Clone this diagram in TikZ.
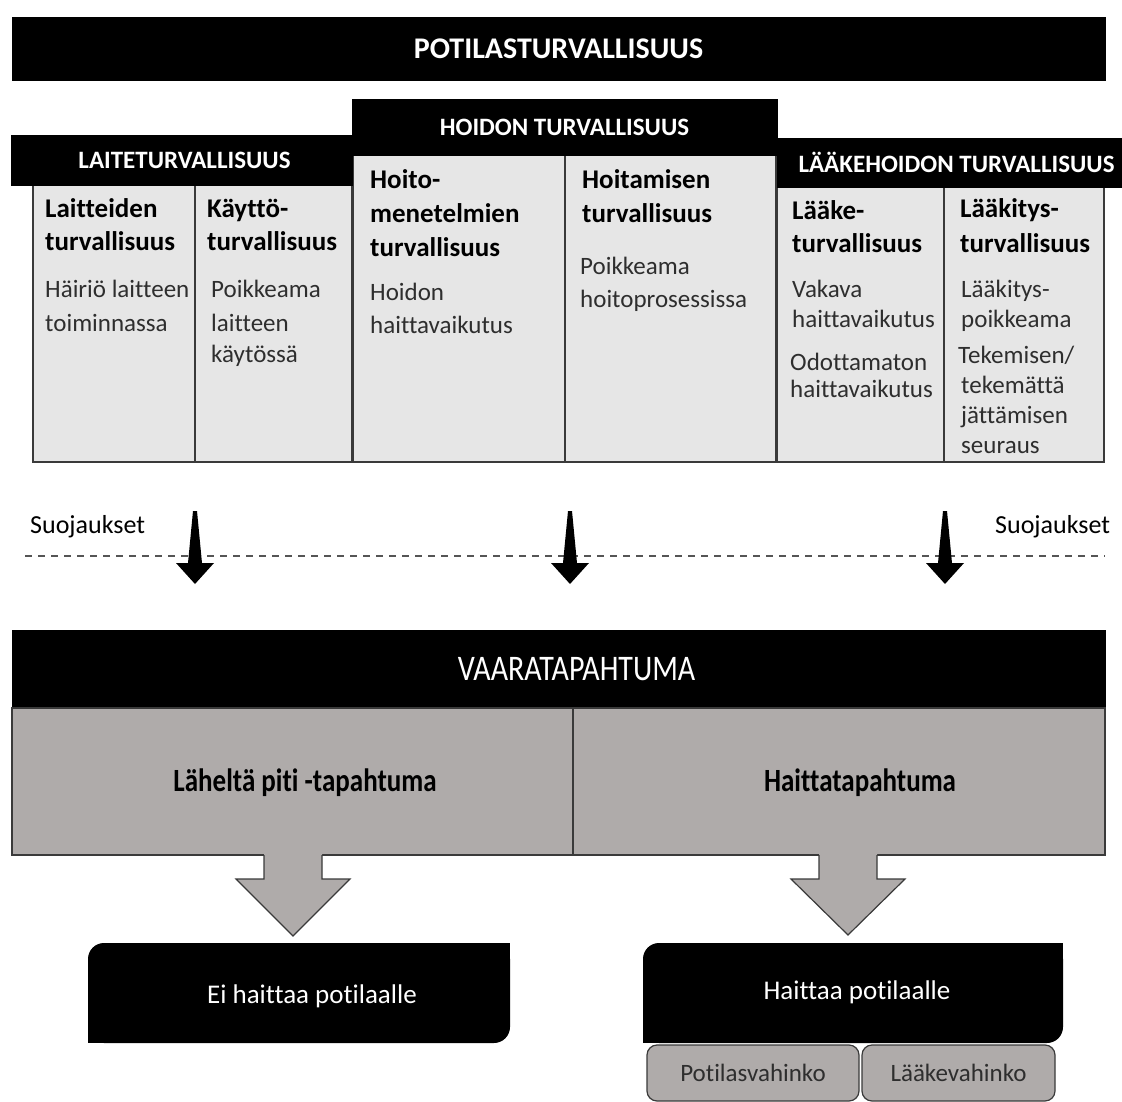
\documentclass[tikz,border=0pt]{standalone}
\usepackage{fontspec}
\setmainfont{Carlito}[Ligatures=NoCommon]
\usepackage{graphicx}
\definecolor{colfill}{HTML}{E6E6E6}
\definecolor{colline}{HTML}{3A3A3A}
\definecolor{bodytext}{HTML}{2E2E2E}
\definecolor{lowgray}{HTML}{AFABAA}
\definecolor{dashgray}{HTML}{555555}
\begin{document}
\begin{tikzpicture}[x=1pt,y=-1pt,
  box/.style={anchor=north west,inner sep=0pt,outer sep=0pt},
  blackbar/.style={box,fill=black,draw=black},
  colbox/.style={box,fill=colfill,draw=colline,line width=1.5pt},
  lowbox/.style={box,fill=lowgray,draw=colline,line width=1.2pt},
  hdr/.style={text=white,font=\bfseries\fontsize{25}{30}\selectfont,inner sep=0pt},
  ttl/.style={anchor=base west,inner sep=0pt,text=black,font=\bfseries\fontsize{27}{31}\selectfont},
  bdy/.style={anchor=base west,inner sep=0pt,text=bodytext,font=\fontsize{25}{31}\selectfont},
  thinarrow/.style={fill=black},
  bigarrow/.style={fill=lowgray},
  bigarrowline/.style={draw=colline,line width=1.2pt,line join=miter}
]
\useasboundingbox (0,0) rectangle (1122,1102);

% top bar
\node[blackbar,minimum width=1093pt,minimum height=63pt] (top) at (12,17) {};
\node[hdr,font=\bfseries\fontsize{30}{34}\selectfont] (toptxt) at (top.center) {POTILASTURVALLISUUS};

% columns
\node[colbox,minimum width=162pt,minimum height=277pt] (c1) at (33,185) {};
\node[colbox,minimum width=157pt,minimum height=277pt] (c2) at (195,185) {};
\node[colbox,minimum width=212pt,minimum height=307pt] (c3) at (353,155) {};
\node[colbox,minimum width=211pt,minimum height=307pt] (c4) at (565,155) {};
\node[colbox,minimum width=167pt,minimum height=275pt] (c5) at (777,187) {};
\node[colbox,minimum width=160pt,minimum height=275pt] (c6) at (944,187) {};

% group headers
\node[blackbar,minimum width=341pt,minimum height=50pt] (laite) at (11,135) {};
\node[hdr] (laitetxt) at ([xshift=3pt]laite.center) {LAITETURVALLISUUS};
\node[blackbar,minimum width=425pt,minimum height=56pt] (hoidon) at (352,99) {};
\node[hdr] (hoidontxt) at (hoidon.center) {HOIDON TURVALLISUUS};
\node[blackbar,minimum width=345pt,minimum height=49pt] (laake) at (777,138) {};
\node[hdr] (laaketxt) at ([xshift=7pt]laake.center) {LÄÄKEHOIDON TURVALLISUUS};

% column 1
\node[ttl] (c1a) at (45,218) {Laitteiden};
\node[ttl] (c1b) at (45,251) {turvallisuus};
\node[bdy] (c1c) at (45,298) {Häiriö laitteen};
\node[bdy] (c1d) at (45,331) {toiminnassa};
% column 2
\node[ttl] (c2a) at (207,218) {Käyttö-};
\node[ttl] (c2b) at (207,251) {turvallisuus};
\node[bdy] (c2c) at (211,298) {Poikkeama};
\node[bdy] (c2d) at (211,331) {laitteen};
\node[bdy] (c2e) at (211,362) {käytössä};
% column 3
\node[ttl] (c3a) at (370,189) {Hoito-};
\node[ttl] (c3b) at (370,223) {menetelmien};
\node[ttl] (c3c) at (370,256) {turvallisuus};
\node[bdy] (c3d) at (370,300) {Hoidon};
\node[bdy] (c3e) at (370,333) {haittavaikutus};
% column 4
\node[ttl] (c4a) at (582,189) {Hoitamisen};
\node[ttl] (c4b) at (582,223) {turvallisuus};
\node[bdy] (c4c) at (580,275) {Poikkeama};
\node[bdy] (c4d) at (580,307) {hoitoprosessissa};
% column 5
\node[ttl] (c5a) at (792,220) {Lääke-};
\node[ttl] (c5b) at (792,252) {turvallisuus};
\node[bdy] (c5c) at (792,297) {Vakava};
\node[bdy] (c5d) at (792,327) {haittavaikutus};
\node[bdy] (c5e) at (790,370) {Odottamaton};
\node[bdy] (c5f) at (790,397) {haittavaikutus};
% column 6
\node[ttl] (c6a) at (960,218) {Lääkitys-};
\node[ttl] (c6b) at (960,252) {turvallisuus};
\node[bdy] (c6c) at (961,297) {Lääkitys-};
\node[bdy] (c6d) at (961,327) {poikkeama};
\node[bdy] (c6e) at (958,363) {Tekemisen/};
\node[bdy] (c6f) at (961,393) {tekemättä};
\node[bdy] (c6g) at (961,423) {jättämisen};
\node[bdy] (c6h) at (961,453) {seuraus};

% defences
\node[bdy,text=black,font=\fontsize{26}{30}\selectfont] (suoL) at (30,533) {Suojaukset};
\node[bdy,text=black,font=\fontsize{26}{30}\selectfont] (suoR) at (995,533) {Suojaukset};
\coordinate (dL) at (25,556);
\coordinate (dR) at (1105,556);
\draw[dashgray,line width=1.5pt,dash pattern=on 7pt off 6pt] (dL) -- (dR);

% thin arrows
\foreach \ax/\nm in {195/aL,570/aM,945/aR}{
  \fill[thinarrow] (\ax-2,511) -- (\ax+2,511) -- (\ax+7,563) -- (\ax+19,563) -- (\ax,584) -- (\ax-19,563) -- (\ax-7,563) -- cycle;
}

% hazard event
\node[blackbar,minimum width=1093pt,minimum height=78pt] (vaara) at (12,630) {};
\node[text=white,inner sep=0pt,font=\fontsize{30}{34}\selectfont] (vaaratxt) at ([xshift=18pt]vaara.center) {\scalebox{1}[1.2]{VAARATAPAHTUMA}};
\node[lowbox,minimum width=561pt,minimum height=147pt] (g1) at (12,708) {};
\node[lowbox,minimum width=532pt,minimum height=147pt] (g2) at (573,708) {};
\node[inner sep=0pt,font=\bfseries\fontsize{27}{31}\selectfont] (g1txt) at (305,783) {\scalebox{1}[1.2]{Läheltä piti -tapahtuma}};
\node[inner sep=0pt,font=\bfseries\fontsize{27}{31}\selectfont] (g2txt) at (860,783) {\scalebox{1}[1.2]{Haittatapahtuma}};

% big arrows
\fill[bigarrow] (264,854) -- (264,879) -- (236,879) -- (293,936) -- (350,879) -- (322,879) -- (322,854) -- cycle;
\draw[bigarrowline] (264,855) -- (264,879) -- (236,879) -- (293,936) -- (350,879) -- (322,879) -- (322,855);
\fill[bigarrow] (819,854) -- (819,879) -- (791,879) -- (848,935) -- (905,879) -- (877,879) -- (877,854) -- cycle;
\draw[bigarrowline] (819,855) -- (819,879) -- (791,879) -- (848,935) -- (905,879) -- (877,879) -- (877,855);

% outcome boxes
\node[box,fill=black,rounded corners=16pt,minimum width=422pt,minimum height=100pt] (ei) at (88,943) {};
\fill[black] (ei.north east) rectangle ++(-20,20);
\fill[black] (ei.south west) rectangle ++(20,-20);
\node[text=white,inner sep=0pt,font=\fontsize{27}{31}\selectfont] (eitxt) at (312,996) {Ei haittaa potilaalle};

\node[box,fill=black,rounded corners=16pt,minimum width=420pt,minimum height=100pt] (hp) at (643,943) {};
\fill[black] (hp.north east) rectangle ++(-20,20);
\fill[black] (hp.south west) rectangle ++(20,-20);
\node[text=white,inner sep=0pt,font=\fontsize{27}{31}\selectfont] (hptxt) at (857,992) {Haittaa potilaalle};

\node[lowbox,rounded corners=10pt,minimum width=212pt,minimum height=56pt] (pv) at (647,1045) {};
\node[lowbox,rounded corners=10pt,minimum width=193pt,minimum height=56pt] (lv) at (862,1045) {};
\node[inner sep=0pt,text=bodytext,font=\fontsize{25}{30}\selectfont] (pvtxt) at (pv.center) {Potilasvahinko};
\node[inner sep=0pt,text=bodytext,font=\fontsize{25}{30}\selectfont] (lvtxt) at (lv.center) {Lääkevahinko};
\end{tikzpicture}
\end{document}
